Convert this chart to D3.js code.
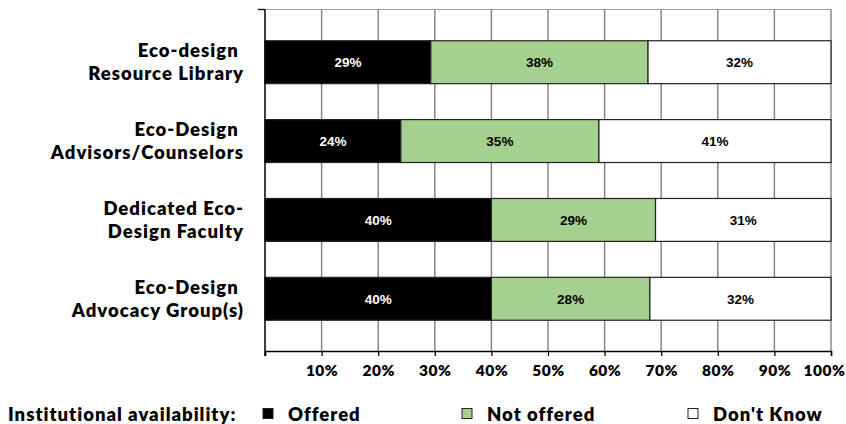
<!DOCTYPE html>
<html>
<head>
<meta charset="utf-8">
<script src="https://cdn.jsdelivr.net/npm/d3@7"></script>
<style>
  html, body { margin: 0; padding: 0; background: #fff; }
  svg { display: block; }
</style>
</head>
<body>
<svg id="chart" width="846" height="424"></svg>
<script>
// Category labels (two lines each) and the three response series, in percent
const categories = [
  ["Eco-design\u00a0", "Resource Library"],
  ["Eco-Design\u00a0", "Advisors/Counselors"],
  ["Dedicated Eco-", "Design Faculty"],
  ["Eco-Design\u00a0", "Advocacy Group(s)"]
];
const offered    = [29, 24, 40, 40];
const notOffered = [38, 35, 29, 28];
const dontKnow   = [32, 41, 31, 32];
const seriesNames = ["Offered", "Not offered", "Don't Know"];
const tickValues = [0, 0.1, 0.2, 0.3, 0.4, 0.5, 0.6, 0.7, 0.8, 0.9, 1.0];
const legendTitle = "Institutional availability:";

const colors = ["#000000", "#a5d08f", "#ffffff"];
const labelColors = ["#ffffff", "#000000", "#000000"];
const gillFont = "Lato, 'Open Sans', sans-serif";
const barFont = "'Liberation Sans', Arial, sans-serif";
const textWeight = 800;
const textSize = 18.5;
const textSpacing = 1.0;

const svg = d3.select("#chart");
const plotLeft = 265, plotRight = 831, plotTop = 10, plotBottom = 351;

const x = d3.scaleLinear().domain([0, 1]).range([plotLeft, plotRight]);
const y = d3.scaleBand()
  .domain(d3.range(categories.length))
  .range([plotTop, plotBottom])
  .paddingInner(0.456)
  .paddingOuter(0.39);

// Normalise each row to 100% and stack
const rows = categories.map((c, i) => {
  const vals = [offered[i], notOffered[i], dontKnow[i]];
  const total = d3.sum(vals);
  let acc = 0;
  return vals.map((v, k) => {
    const seg = { row: i, k, v, x0: acc / total, x1: (acc + v) / total };
    acc += v;
    return seg;
  });
});

// Top border of the plot area
svg.append("line")
  .attr("x1", plotLeft).attr("x2", plotRight)
  .attr("y1", plotTop - 0.5).attr("y2", plotTop - 0.5)
  .attr("stroke", "#a0a0a0").attr("stroke-width", 1.2);

// Vertical gridlines
svg.append("g")
  .selectAll("line")
  .data(tickValues.filter(t => t > 0))
  .join("line")
  .attr("x1", d => x(d)).attr("x2", d => x(d))
  .attr("y1", plotTop - 0.5).attr("y2", plotBottom)
  .attr("stroke", "#7f7f7f").attr("stroke-width", 1.4);

// Stacked bar segments
const segG = svg.append("g");
rows.forEach(row => {
  segG.selectAll(null)
    .data(row)
    .join("rect")
    .attr("x", d => x(d.x0))
    .attr("y", d => y(d.row))
    .attr("width", d => x(d.x1) - x(d.x0))
    .attr("height", y.bandwidth())
    .attr("fill", d => colors[d.k])
    .attr("stroke", "#222")
    .attr("stroke-width", 1.2);
});

// Value labels inside segments
const labG = svg.append("g");
rows.forEach(row => {
  labG.selectAll(null)
    .data(row)
    .join("text")
    .attr("x", d => (x(d.x0) + x(d.x1)) / 2)
    .attr("y", d => y(d.row) + y.bandwidth() / 2)
    .attr("dy", "0.36em")
    .attr("text-anchor", "middle")
    .attr("font-family", barFont)
    .attr("font-weight", "bold")
    .attr("font-size", 13.5)
    .attr("fill", d => labelColors[d.k])
    .text(d => d.v + "%");
});

// Bottom axis with percent tick labels
const xAxis = d3.axisBottom(x)
  .tickValues(tickValues)
  .tickSize(5)
  .tickPadding(9)
  .tickFormat(d => d === 0 ? "" : d3.format(".0%")(d));
const gx = svg.append("g")
  .attr("transform", `translate(0,${plotBottom})`)
  .call(xAxis);
gx.select(".domain").attr("stroke", "#000").attr("stroke-width", 1.5);
gx.selectAll(".tick line").attr("stroke", "#000").attr("stroke-width", 1.3);
gx.selectAll(".tick text")
  .attr("font-family", gillFont)
  .attr("font-weight", textWeight)
  .attr("font-size", 15.5)
  .attr("letter-spacing", 0.5)
  .attr("fill", "#000");
// keep the last label inside the right edge
gx.selectAll(".tick text")
  .filter(d => d === 1)
  .attr("text-anchor", "end")
  .attr("x", 845 - x(1));

// Left axis line with a single top tick
svg.append("line")
  .attr("x1", plotLeft).attr("x2", plotLeft)
  .attr("y1", plotTop - 0.5).attr("y2", plotBottom + 5)
  .attr("stroke", "#000").attr("stroke-width", 1.5);
svg.append("line")
  .attr("x1", plotLeft - 7).attr("x2", plotLeft)
  .attr("y1", plotTop - 0.5).attr("y2", plotTop - 0.5)
  .attr("stroke", "#000").attr("stroke-width", 1.3);

// Category labels
const catG = svg.append("g");
categories.forEach((lines, i) => {
  const cy = y(i) + y.bandwidth() / 2;
  const t = catG.append("text")
    .attr("text-anchor", "end")
    .attr("font-family", gillFont)
    .attr("font-weight", textWeight)
    .attr("font-size", textSize)
    .attr("letter-spacing", textSpacing)
    .attr("fill", "#000");
  lines.forEach((ln, j) => {
    t.append("tspan")
      .attr("x", 244)
      .attr("y", cy + (j === 0 ? -11.5 : 11.5))
      .attr("dy", "0.36em")
      .text(ln);
  });
});

// Legend
const legY = 414;
svg.append("text")
  .attr("x", 8).attr("y", legY).attr("dy", "0.36em")
  .attr("font-family", gillFont).attr("font-weight", textWeight)
  .attr("font-size", textSize).attr("letter-spacing", textSpacing)
  .attr("fill", "#000")
  .text(legendTitle);
const legX = [263, 462, 688];
seriesNames.forEach((name, k) => {
  svg.append("rect")
    .attr("x", legX[k]).attr("y", legY - 5.5)
    .attr("width", 10).attr("height", 10)
    .attr("fill", colors[k])
    .attr("stroke", "#222").attr("stroke-width", 1);
  svg.append("text")
    .attr("x", legX[k] + 25).attr("y", legY).attr("dy", "0.36em")
    .attr("font-family", gillFont).attr("font-weight", textWeight)
    .attr("font-size", textSize).attr("letter-spacing", textSpacing)
    .attr("fill", "#000")
    .text(name);
});
</script>
</body>
</html>
